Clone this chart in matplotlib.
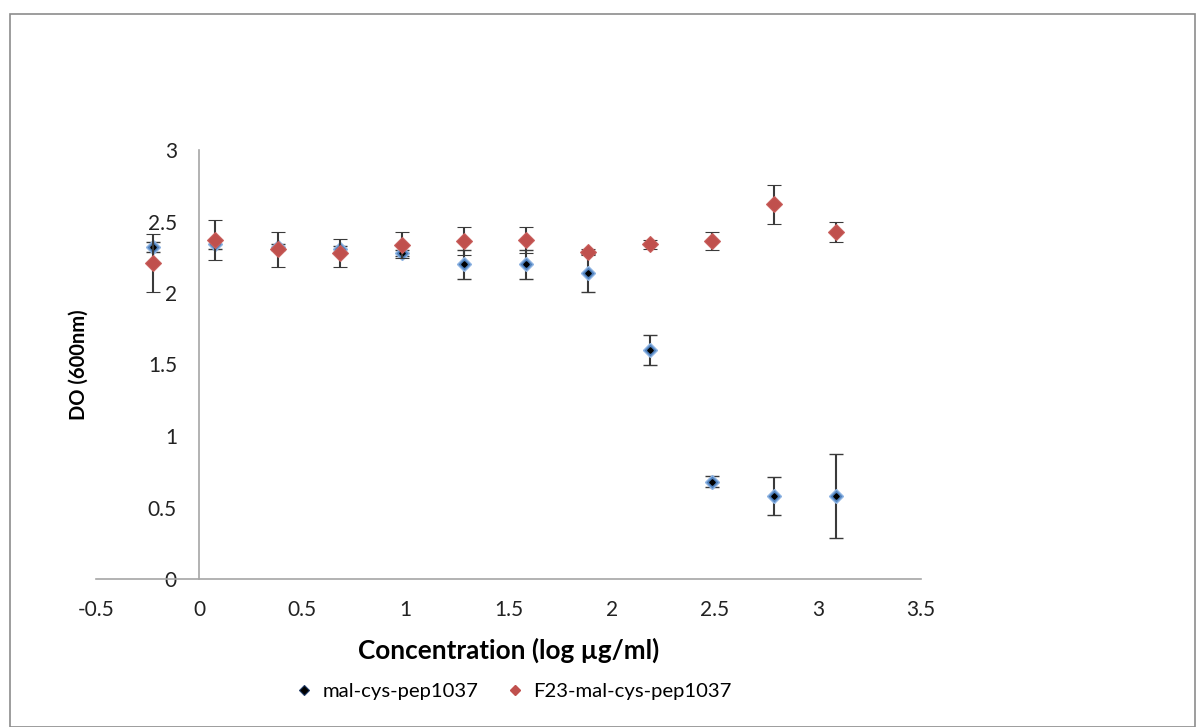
import numpy as np
import matplotlib.pyplot as plt
from matplotlib.patches import Rectangle
from matplotlib.lines import Line2D

plt.rcParams['font.family'] = ['Lato', 'DejaVu Sans']

# log of concentration (ug/ml)
x = [-0.222, 0.079, 0.380, 0.681, 0.982, 1.283, 1.584, 1.885, 2.186, 2.487, 2.788, 3.089]

# mal-cys-pep1037
y_mal = [2.32, 2.34, 2.32, 2.31, 2.28, 2.20, 2.20, 2.14, 1.60, 0.68, 0.58, 0.58]
err_mal = [0.035, 0.03, 0.02, 0.02, 0.02, 0.10, 0.10, 0.13, 0.105, 0.04, 0.13, 0.295]

# F23-mal-cys-pep1037
y_f23 = [2.21, 2.37, 2.305, 2.28, 2.335, 2.364, 2.37, 2.285, 2.34, 2.364, 2.62, 2.43]
err_f23 = [0.20, 0.14, 0.125, 0.095, 0.09, 0.095, 0.09, 0.02, 0.03, 0.06, 0.135, 0.07]

labels = ['mal-cys-pep1037', 'F23-mal-cys-pep1037']

fig = plt.figure(figsize=(11.98, 7.27), dpi=100)
ax = fig.add_axes([96 / 1198, 1 - 579 / 727, (921 - 96) / 1198, (579 - 150) / 727])

# cadre autour du graphique
fig.patches.append(Rectangle((10 / 1198, 0), 1185 / 1198, 1 - 14 / 727,
                             transform=fig.transFigure, fill=False,
                             edgecolor='#8c8c8c', linewidth=1.2))

ax.errorbar(x, y_mal, yerr=err_mal, fmt='D', markersize=7, markerfacecolor='#4f81bd',
            markeredgecolor='#8db3e2', markeredgewidth=1.0, ecolor='#3a3a3a',
            elinewidth=1.5, capsize=5, capthick=1.5, zorder=3)
ax.plot(x, y_mal, 'D', markersize=2.8, color='black', zorder=3.5)
ax.errorbar(x, y_f23, yerr=err_f23, fmt='D', markersize=8.5, markerfacecolor='#c0504d',
            markeredgecolor='#c9605d', markeredgewidth=0.8, ecolor='#3a3a3a',
            elinewidth=1.5, capsize=5, capthick=1.5, zorder=4)

ax.set_xlim(-0.5, 3.5)
ax.set_ylim(0, 3)
ax.set_xticks(np.arange(-0.5, 3.51, 0.5))
ax.set_xticklabels(['-0.5', '0', '0.5', '1', '1.5', '2', '2.5', '3', '3.5'])
ax.set_yticks(np.arange(0, 3.01, 0.5))
ax.set_yticklabels(['0', '0.5', '1', '1.5', '2', '2.5', '3'])

ax.spines['top'].set_visible(False)
ax.spines['right'].set_visible(False)
ax.spines['left'].set_position(('data', 0))
ax.spines['left'].set_color('#a6a6a6')
ax.spines['bottom'].set_color('#a6a6a6')
ax.spines['left'].set_linewidth(1.2)
ax.spines['bottom'].set_linewidth(1.2)
ax.tick_params(length=0, labelsize=15, colors='#222222')
ax.tick_params(axis='x', pad=15)
ax.tick_params(axis='y', pad=16)
ax.patch.set_alpha(0)

ax.set_xlabel('Concentration (log µg/ml)', fontsize=18.8, fontweight='bold', labelpad=13)
ax.text(-0.583, 1.5, 'DO (600nm)', rotation=90, fontsize=14.5, fontweight='bold',
        ha='center', va='center', transform=ax.transData)

handles = [Line2D([], [], ls='none', marker='D', markersize=5, markerfacecolor='black',
                  markeredgecolor='#1f3864', markeredgewidth=0.8),
           Line2D([], [], ls='none', marker='D', markersize=5.5, markerfacecolor='#c0504d',
                  markeredgecolor='#c0504d')]
fig.legend(handles, labels, loc='center', bbox_to_anchor=(515 / 1198, 1 - 691 / 727), ncol=2,
           frameon=False, fontsize=14.6, handlelength=0.6,
           columnspacing=1.5, handletextpad=0.6)

fig.savefig('out.png', dpi=100)
